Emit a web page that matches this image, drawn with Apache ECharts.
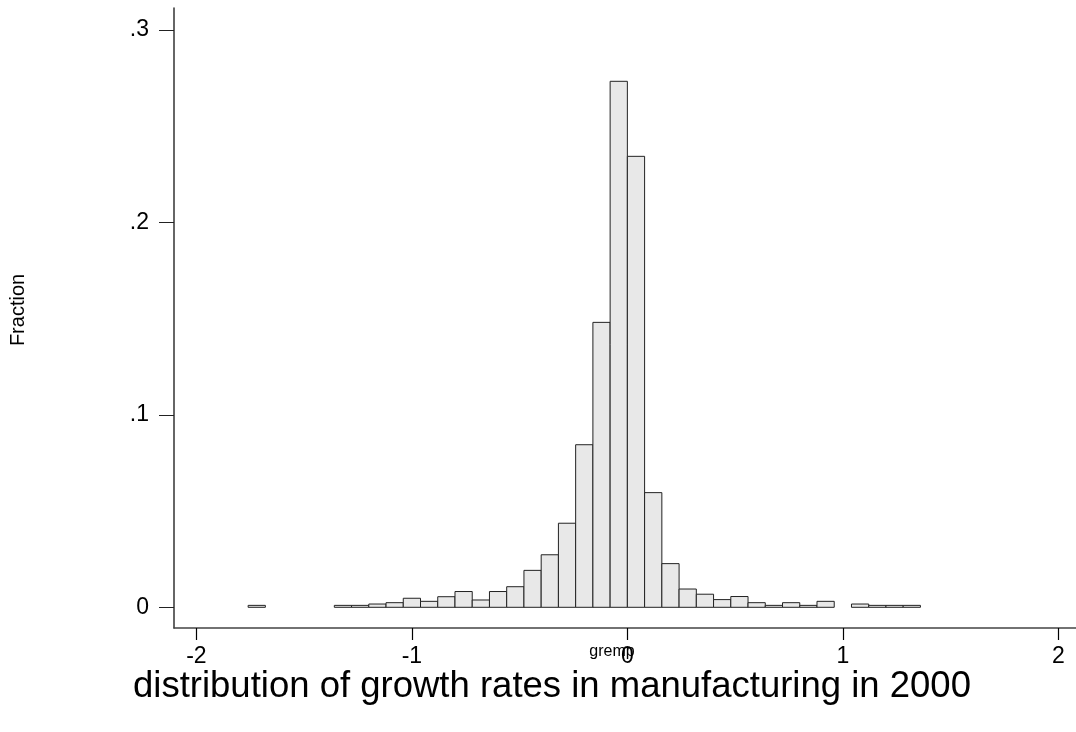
<!DOCTYPE html>
<html>
<head>
<meta charset="utf-8">
<title>gremp histogram</title>
<script src="https://cdn.jsdelivr.net/npm/echarts@6/dist/echarts.min.js"></script>
<style>
  html, body { margin: 0; padding: 0; background: #fff; }
  #chart { width: 1076px; height: 732px; }
</style>
</head>
<body>
<div id="chart"></div>
<script>
// bin width of the histogram (gremp units)
const binWidth = 0.08;
// left edges of the non-empty bins
const binLeft = [
  -1.76, -1.36, -1.28, -1.20, -1.12, -1.04, -0.96, -0.88, -0.80, -0.72,
  -0.64, -0.56, -0.48, -0.40, -0.32, -0.24, -0.16, -0.08, 0.00, 0.08,
  0.16, 0.24, 0.32, 0.40, 0.48, 0.56, 0.64, 0.72, 0.80, 0.88,
  1.04, 1.12, 1.20, 1.28
];
// fraction of observations in each bin
const fraction = [
  0.0010, 0.0010, 0.0010, 0.0017, 0.0024, 0.0047, 0.0031, 0.0055, 0.0082, 0.0038,
  0.0082, 0.0107, 0.0192, 0.0273, 0.0437, 0.0845, 0.1481, 0.2734, 0.2344, 0.0596,
  0.0227, 0.0095, 0.0068, 0.0040, 0.0056, 0.0024, 0.0010, 0.0024, 0.0010, 0.0031,
  0.0017, 0.0010, 0.0010, 0.0010
];
// axis ticks
const xTicks = [-2, -1, 0, 1, 2];
const yTicks = [0, 0.1, 0.2, 0.3];

const FONT = 'Liberation Sans, Arial, sans-serif';

const myChart = echarts.init(document.getElementById('chart'));

const histData = binLeft.map((x, i) => [x, x + binWidth, fraction[i]]);

myChart.setOption({
  animation: false,
  backgroundColor: '#fff',
  title: {
    text: 'distribution of growth rates in manufacturing in 2000',
    left: 128,
    top: 663,
    textStyle: { fontFamily: FONT, fontSize: 36.5, fontWeight: 'normal', color: '#000' }
  },
  graphic: [{
    type: 'text',
    x: 18,
    y: 310,
    rotation: Math.PI / 2,
    style: {
      text: 'Fraction',
      font: '20px ' + FONT,
      fill: '#000',
      align: 'center',
      verticalAlign: 'middle'
    }
  }],
  grid: { left: 174, right: 0, top: 8, bottom: 104 },
  xAxis: {
    type: 'value',
    min: -2.104,
    max: 2.082,
    name: 'gremp',
    nameLocation: 'middle',
    nameGap: 24,
    nameMoveOverlap: false,
    nameTextStyle: { fontFamily: FONT, fontSize: 16, color: '#000', padding: [0, 26, 0, 0], verticalAlign: 'middle' },
    axisLine: { show: true, onZero: false, lineStyle: { color: '#444', width: 1.5 } },
    axisTick: { show: true, inside: false, customValues: xTicks, length: 12, lineStyle: { color: '#000', width: 1.2 } },
    axisLabel: {
      customValues: xTicks,
      margin: 17,
      fontFamily: FONT,
      fontSize: 23,
      color: '#000'
    },
    splitLine: { show: false }
  },
  yAxis: {
    type: 'value',
    min: -0.01076,
    max: 0.3115,
    axisLine: { show: true, onZero: false, lineStyle: { color: '#333', width: 1.5 } },
    axisTick: { show: true, inside: false, customValues: yTicks, length: 15, lineStyle: { color: '#222', width: 1 } },
    axisLabel: {
      customValues: yTicks,
      margin: 25,
      fontFamily: FONT,
      fontSize: 23,
      color: '#000',
      formatter: (v) => v === 0 ? '0' : String(+v.toFixed(1)).replace('0.', '.')
    },
    splitLine: { show: false }
  },
  series: [{
    type: 'custom',
    name: 'gremp',
    data: histData,
    encode: { x: [0, 1], y: 2 },
    renderItem: (params, api) => {
      const p0 = api.coord([api.value(0), api.value(2)]);
      const p1 = api.coord([api.value(1), 0]);
      return {
        type: 'rect',
        shape: { x: p0[0], y: p0[1], width: p1[0] - p0[0], height: p1[1] - p0[1] },
        style: { fill: '#e8e8e8', stroke: '#222', lineWidth: 1 }
      };
    }
  }]
});
</script>
</body>
</html>
